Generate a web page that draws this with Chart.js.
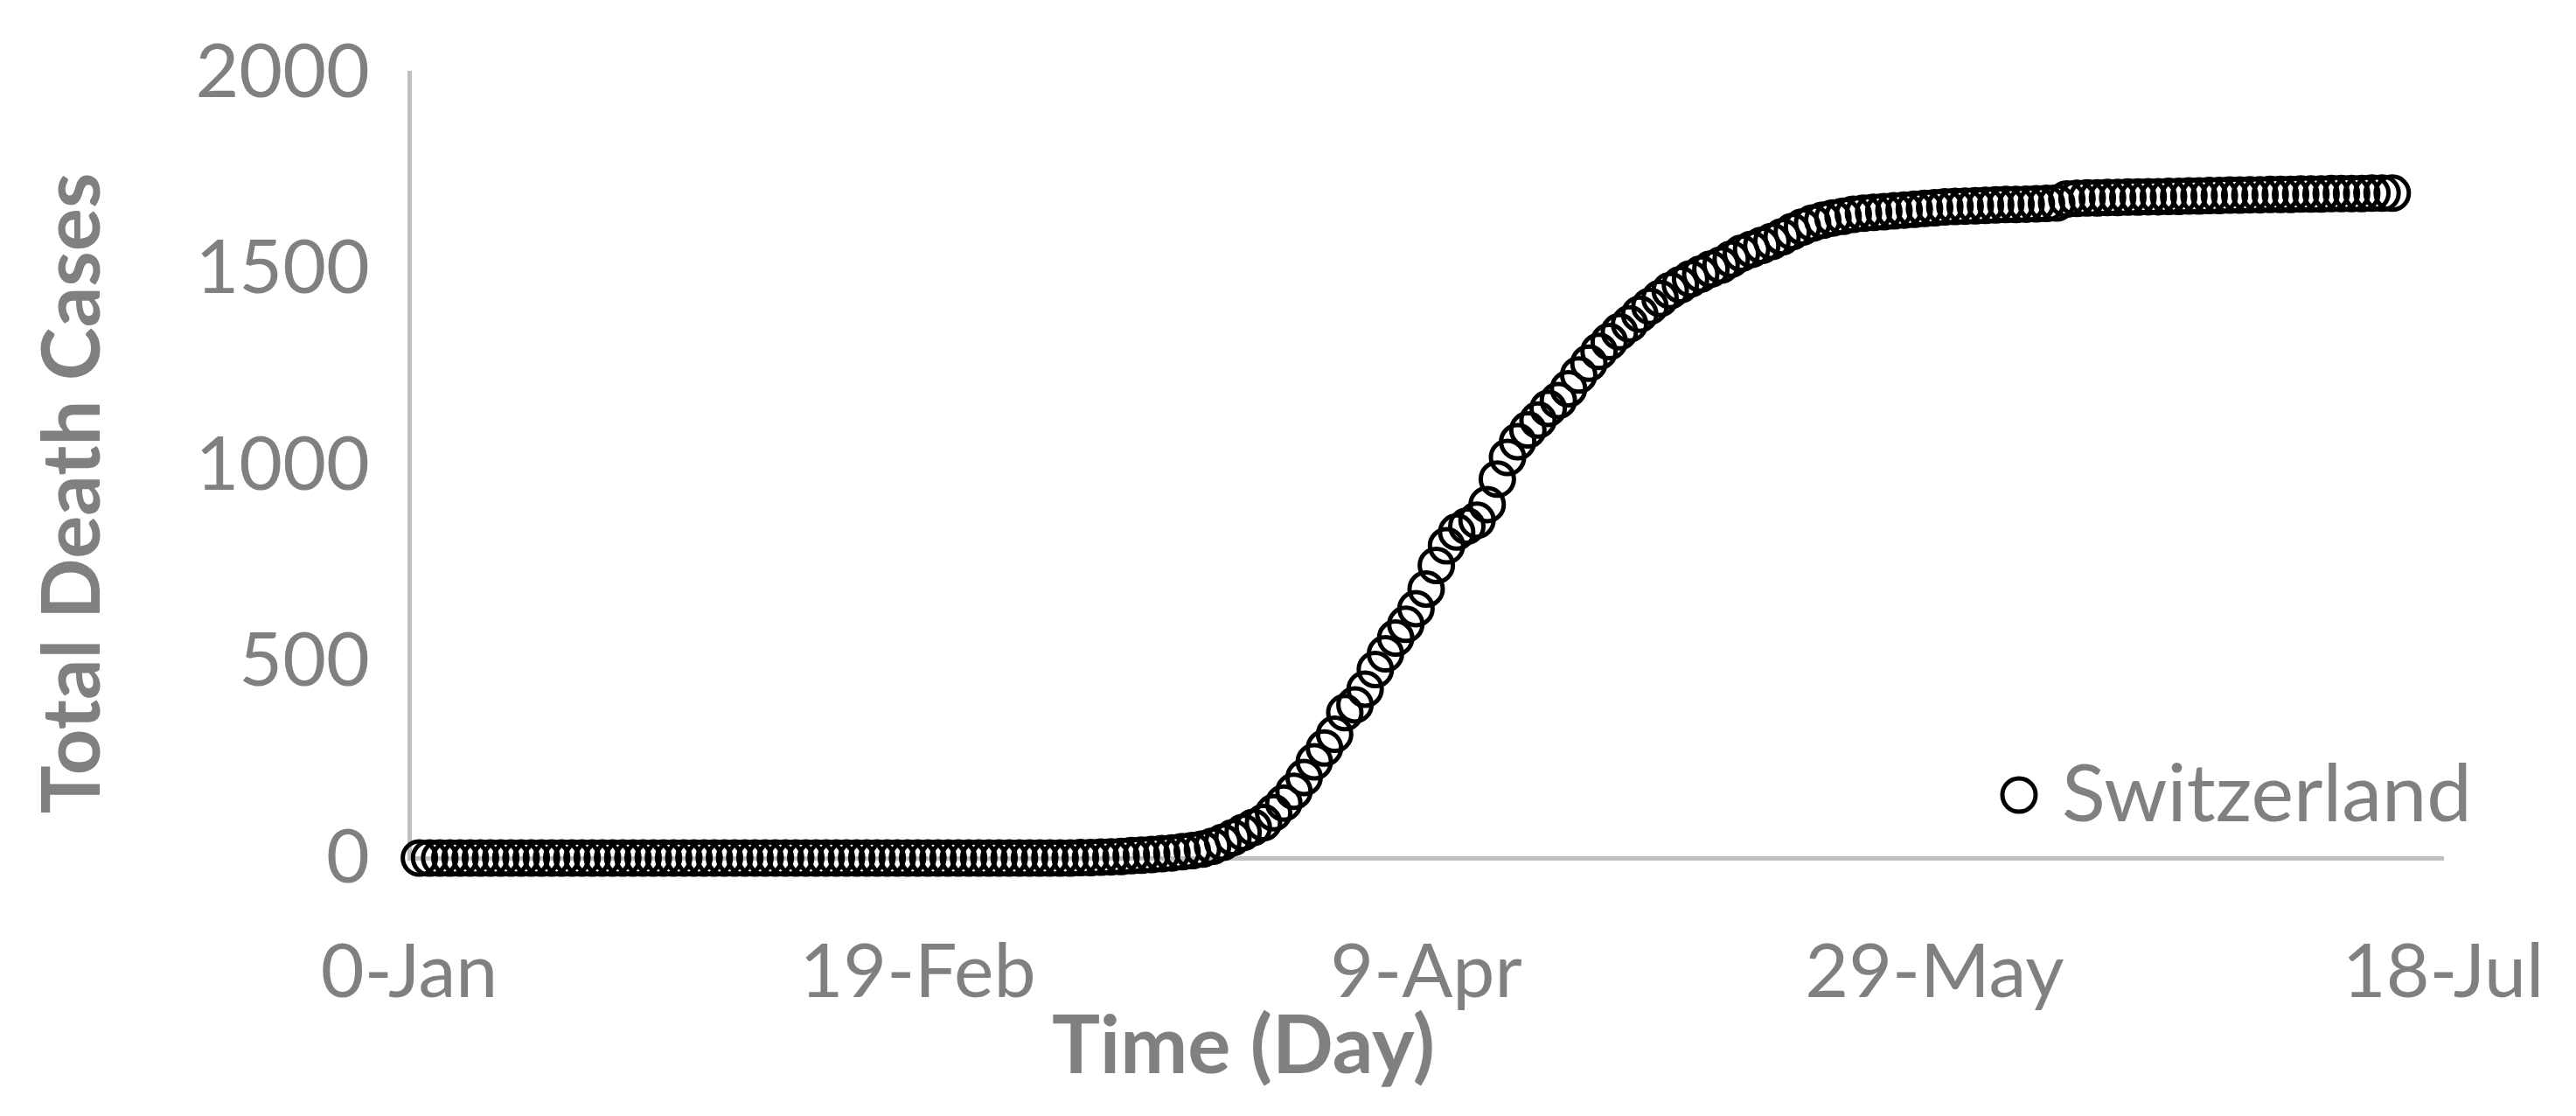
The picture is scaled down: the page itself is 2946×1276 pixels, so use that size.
<!DOCTYPE html>
<html>
<head>
<meta charset="utf-8">
<title>Switzerland - Total Death Cases</title>
<script src="https://cdn.jsdelivr.net/npm/chart.js@4.4.1/dist/chart.umd.min.js"></script>
<style>
  html, body { margin: 0; padding: 0; background: #fff; }
</style>
</head>
<body>
<canvas id="chart" width="2946" height="1276"></canvas>
<script>
// x axis is in Excel day numbers (0 = "0-Jan"), one tick every 50 days
const xTickValues = [0, 50, 100, 150, 200];
const xTickLabels = ['0-Jan', '19-Feb', '9-Apr', '29-May', '18-Jul'];
const yTickValues = [0, 500, 1000, 1500, 2000];

const countryName = 'Switzerland';
const firstDay = 1;

// cumulative deaths, one value per day from firstDay on
const deathCases = [
    0, 0, 0, 0, 0, 0, 0, 0, 0, 0,                                  // 1-10
    0, 0, 0, 0, 0, 0, 0, 0, 0, 0,                                  // 11-20
    0, 0, 0, 0, 0, 0, 0, 0, 0, 0,                                  // 21-30
    0, 0, 0, 0, 0, 0, 0, 0, 0, 0,                                  // 31-40
    0, 0, 0, 0, 0, 0, 0, 0, 0, 0,                                  // 41-50
    0, 0, 0, 0, 0, 0, 0, 0, 0, 0,                                  // 51-60
    0, 0, 0, 0, 0, 1, 1, 2, 3, 4,                                  // 61-70
    6, 7, 9, 11, 13, 16, 19, 23, 30, 40,                           // 71-80
    52, 65, 78, 90, 115, 140, 170, 205, 245, 280,                  // 81-90
    315, 370, 390, 430, 480, 520, 560, 595, 635, 685,              // 91-100
    745, 795, 830, 845, 860, 900, 965, 1020, 1060, 1090,           // 101-110
    1115, 1145, 1165, 1195, 1230, 1260, 1290, 1315, 1340, 1360,    // 111-120
    1385, 1405, 1425, 1445, 1460, 1475, 1487, 1500, 1510, 1525,    // 121-130
    1540, 1550, 1560, 1570, 1582, 1595, 1607, 1617, 1624, 1630,    // 131-140
    1634, 1639, 1642, 1644, 1646, 1648, 1650, 1652, 1654, 1656,    // 141-150
    1658, 1659, 1660, 1661, 1662, 1663, 1664, 1664, 1665, 1666,    // 151-160
    1667, 1668, 1678, 1680, 1681, 1681, 1682, 1682, 1683, 1683,    // 161-170
    1684, 1684, 1685, 1685, 1686, 1686, 1687, 1687, 1688, 1688,    // 171-180
    1689, 1689, 1690, 1690, 1690, 1691, 1691, 1691, 1692, 1692,    // 181-190
    1692, 1692, 1693, 1693, 1693                                   // 191-195
];

const GREY = '#808080';
const AXIS_GREY = '#bfbfbf';
const FONT = 'Lato, "Open Sans", sans-serif';

// axis titles and the legend sit where Excel put them, not where Chart.js would
const excelLook = {
    id: 'excelLook',
    afterDraw(chart) {
        const ctx = chart.ctx;
        const ds = chart.data.datasets[0];

        ctx.save();
        ctx.fillStyle = GREY;
        ctx.font = 'bold 92px ' + FONT;
        ctx.textAlign = 'center';
        ctx.textBaseline = 'middle';
        ctx.fillText('Time (Day)', 1422, 1197);

        ctx.translate(84, 564);
        ctx.rotate(-Math.PI / 2);
        ctx.fillText('Total Death Cases', 0, 0);
        ctx.restore();

        // legend
        ctx.save();
        ctx.beginPath();
        ctx.arc(2309, 909, ds.pointRadius, 0, Math.PI * 2);
        ctx.lineWidth = ds.pointBorderWidth;
        ctx.strokeStyle = ds.pointBorderColor;
        ctx.stroke();
        ctx.fillStyle = GREY;
        ctx.font = '92px ' + FONT;
        ctx.textAlign = 'left';
        ctx.textBaseline = 'middle';
        ctx.fillText(ds.label, 2358, 909);
        ctx.restore();
    }
};

new Chart(document.getElementById('chart'), {
    type: 'scatter',
    data: {
        datasets: [{
            label: countryName,
            data: deathCases.map((v, i) => ({ x: firstDay + i, y: v })),
            pointStyle: 'circle',
            pointRadius: 19,
            pointBorderWidth: 5,
            pointBorderColor: '#000000',
            pointBackgroundColor: 'rgba(0,0,0,0)',
            showLine: false,
            clip: false,
        }],
    },
    options: {
        responsive: false,
        animation: false,
        layout: { padding: { top: 83, right: 152, left: 0, bottom: 0 } },
        plugins: {
            legend: { display: false },
            tooltip: { enabled: false },
        },
        scales: {
            x: {
                type: 'linear',
                min: 0,
                max: 200,
                afterBuildTicks: (scale) => {
                    scale.ticks = xTickValues.map((v) => ({ value: v }));
                },
                afterFit: (scale) => {
                    // fixed plot box; labels may hang over the edges
                    scale.height = 295;
                    scale.paddingLeft = 0;
                    scale.paddingRight = 0;
                },
                ticks: {
                    callback: (value) => xTickLabels[xTickValues.indexOf(value)],
                    color: GREY,
                    font: { family: FONT, size: 86 },
                    padding: 80,
                    maxRotation: 0,
                    autoSkip: false,
                },
                grid: { display: false, drawTicks: false },
                border: { display: true, color: AXIS_GREY, width: 5 },
            },
            y: {
                min: 0,
                max: 2000,
                afterBuildTicks: (scale) => {
                    scale.ticks = yTickValues.map((v) => ({ value: v }));
                },
                afterFit: (scale) => {
                    scale.width = 468;
                    scale.paddingTop = 0;
                    scale.paddingBottom = 0;
                },
                ticks: {
                    callback: (value) => String(value),
                    color: GREY,
                    font: { family: FONT, size: 86 },
                    padding: 45,
                },
                grid: { display: false, drawTicks: false },
                border: { display: true, color: AXIS_GREY, width: 5 },
            },
        },
    },
    plugins: [excelLook],
});
</script>
</body>
</html>
